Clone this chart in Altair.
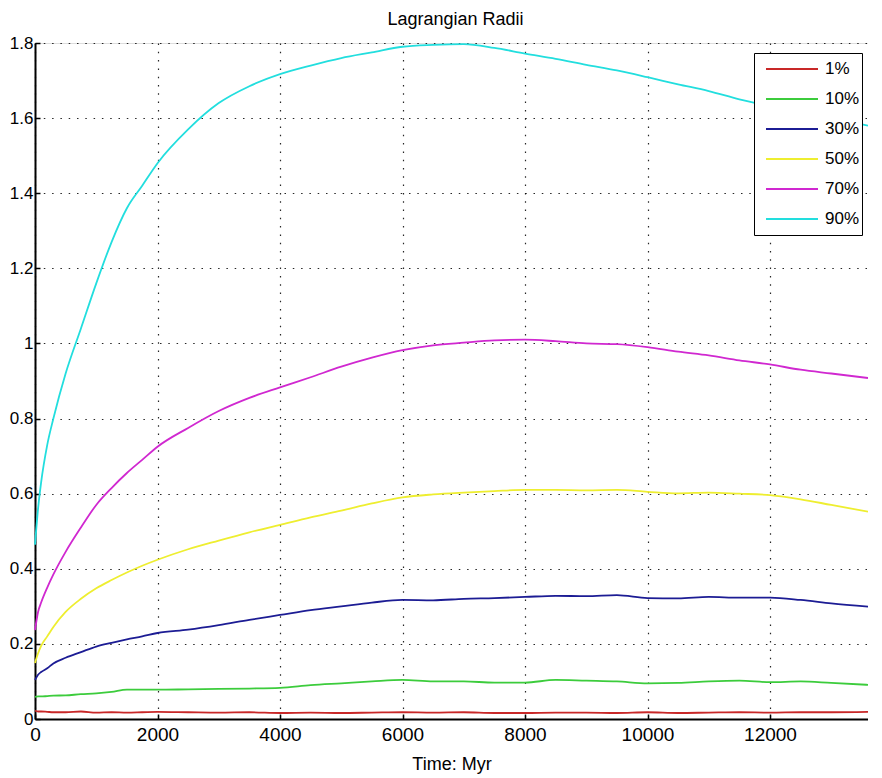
import altair as alt
import pandas as pd

# ---- data ----
time_myr = [0, 50, 100, 200, 300, 500, 750, 1000, 1250, 1500, 1750, 2000, 2500, 3000,
            3500, 4000, 4500, 5000, 5500, 6000, 6500, 7000, 7500, 8000, 8500, 9000,
            9500, 10000, 10500, 11000, 11500, 12000, 12500, 13000, 13600]

r1 = [0.022, 0.020, 0.020, 0.019, 0.018, 0.018, 0.020, 0.017, 0.018, 0.017, 0.018, 0.019,
      0.018, 0.017, 0.018, 0.016, 0.017, 0.016, 0.017, 0.018, 0.017, 0.018, 0.016, 0.016,
      0.017, 0.017, 0.016, 0.018, 0.016, 0.017, 0.018, 0.017, 0.018, 0.018, 0.019]
r10 = [0.059, 0.060, 0.060, 0.061, 0.062, 0.063, 0.066, 0.068, 0.072, 0.078, 0.078, 0.078,
       0.079, 0.080, 0.081, 0.083, 0.090, 0.095, 0.100, 0.104, 0.100, 0.100, 0.097, 0.097,
       0.104, 0.102, 0.100, 0.095, 0.096, 0.100, 0.102, 0.098, 0.100, 0.096, 0.091]
r30 = [0.104, 0.118, 0.125, 0.135, 0.148, 0.163, 0.178, 0.193, 0.203, 0.212, 0.220, 0.229,
       0.238, 0.250, 0.264, 0.277, 0.290, 0.300, 0.310, 0.317, 0.316, 0.320, 0.322, 0.325,
       0.328, 0.327, 0.330, 0.322, 0.321, 0.325, 0.323, 0.323, 0.317, 0.308, 0.299]
r50 = [0.149, 0.175, 0.195, 0.220, 0.245, 0.285, 0.320, 0.348, 0.370, 0.390, 0.408, 0.424,
       0.452, 0.475, 0.497, 0.517, 0.537, 0.555, 0.574, 0.590, 0.598, 0.603, 0.607, 0.610,
       0.610, 0.609, 0.610, 0.605, 0.601, 0.603, 0.600, 0.596, 0.585, 0.570, 0.552]
r70 = [0.237, 0.285, 0.310, 0.350, 0.385, 0.445, 0.510, 0.570, 0.615, 0.655, 0.690, 0.725,
       0.775, 0.820, 0.855, 0.883, 0.910, 0.938, 0.962, 0.982, 0.995, 1.002, 1.008, 1.010,
       1.006, 1.000, 0.998, 0.990, 0.978, 0.968, 0.955, 0.944, 0.930, 0.920, 0.908]
r90 = [0.464, 0.560, 0.630, 0.730, 0.800, 0.920, 1.040, 1.160, 1.270, 1.360, 1.420, 1.480,
       1.570, 1.640, 1.685, 1.717, 1.740, 1.760, 1.775, 1.790, 1.795, 1.797, 1.787, 1.772,
       1.758, 1.742, 1.727, 1.709, 1.690, 1.672, 1.650, 1.632, 1.615, 1.600, 1.580]

series_names = ["1%", "10%", "30%", "50%", "70%", "90%"]
series_vals = [r1, r10, r30, r50, r70, r90]
series_colors = ["#c82828", "#3ccc3c", "#1c1c94", "#eeee30", "#d028d0", "#22dede"]
series_widths = [1.8, 1.8, 2.0, 2.6, 2.4, 3.0]
x_ticks = [0, 2000, 4000, 6000, 8000, 10000, 12000]
y_ticks = [0, 0.2, 0.4, 0.6, 0.8, 1.0, 1.2, 1.4, 1.6, 1.8]

rows = []
for name, vals in zip(series_names, series_vals):
    for t, v in zip(time_myr, vals):
        rows.append({"time": t, "radius": v, "fraction": name})
df = pd.DataFrame(rows)

FONT = "Liberation Sans"
W, H = 833, 676

xscale = alt.Scale(domain=[0, 13600], nice=False, zero=False)
yscale = alt.Scale(domain=[0, 1.8], nice=False)

color = alt.Color(
    "fraction:N",
    scale=alt.Scale(domain=series_names, range=series_colors),
    sort=series_names,
    legend=alt.Legend(
        title=None, orient="none", legendX=719, legendY=10,
        symbolType="stroke", symbolSize=2704, symbolStrokeWidth=1.5,
        clipHeight=28, rowPadding=2, padding=2, symbolOffset=9, labelOffset=6,
        labelFont=FONT, labelFontSize=17, labelColor="black",
        strokeColor="black", fillColor="white",
    ),
)

lines = alt.Chart(df).mark_line(interpolate="monotone").encode(
    x=alt.X("time:Q", scale=xscale,
            axis=alt.Axis(values=x_ticks, format="d", title="Time: Myr", grid=True,
                          gridDash=[1.5, 6.8], gridColor="black", gridOpacity=0.85,
                          gridWidth=1.2, ticks=False, labelPadding=6, labelFont=FONT,
                          labelFontSize=19, labelColor="black", titleFont=FONT,
                          titleFontSize=18, titleFontWeight="normal", titleColor="black",
                          titlePadding=11, domainColor="black", domainWidth=2,
                          labelFlush=False)),
    y=alt.Y("radius:Q", scale=yscale,
            axis=alt.Axis(values=y_ticks, title=None, grid=True, gridDash=[1.5, 6.8],
                          gridColor="black", gridOpacity=0.85, gridWidth=1.2,
                          ticks=False, labelPadding=2, labelFont=FONT, labelFontSize=17,
                          labelColor="black", labelExpr="format(datum.value, '.1~f')",
                          domainColor="black", domainWidth=2)),
    color=color,
    strokeWidth=alt.StrokeWidth("fraction:N",
                                scale=alt.Scale(domain=series_names, range=series_widths),
                                legend=None),
    order=alt.Order("time:Q"),
)

ticks_layer = alt.Chart(df).mark_point(opacity=0).encode(
    x=alt.X("time:Q", scale=xscale,
            axis=alt.Axis(orient="top", offset=-H, values=x_ticks, labels=False, title=None,
                          grid=False, domain=False, tickSize=5, tickColor="black",
                          tickWidth=1.5)),
    y=alt.Y("radius:Q", scale=yscale,
            axis=alt.Axis(orient="right", offset=-W, values=y_ticks, labels=False, title=None,
                          grid=False, domain=False, tickSize=5, tickColor="black",
                          tickWidth=1.5)),
)

chart = alt.layer(lines, ticks_layer).resolve_axis(
    x="independent", y="independent"
).properties(
    width=W, height=H,
    title=alt.TitleParams("Lagrangian Radii", font=FONT, fontSize=18, fontWeight="normal",
                          color="black", offset=14, dx=4, dy=9),
    autosize=alt.AutoSizeParams(type="none"),
    padding={"left": 27, "top": 35, "right": 0, "bottom": 55},
).configure_view(stroke=None).configure(background="white")

chart.save("out.html", embed_options={"renderer": "svg", "actions": False})
